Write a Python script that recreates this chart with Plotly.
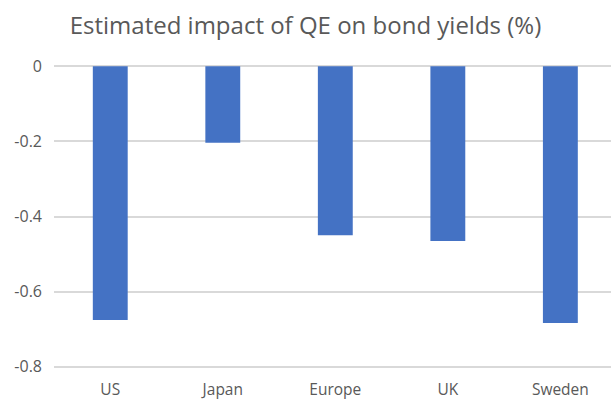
import plotly.graph_objects as go

# Chart data
countries = ["US", "Japan", "Europe", "UK", "Sweden"]
yield_impact = [-0.675, -0.204, -0.45, -0.465, -0.683]
y_ticks = [0, -0.2, -0.4, -0.6, -0.8]
y_tick_labels = ["0", "-0.2", "-0.4", "-0.6", "-0.8"]

fig = go.Figure(
    go.Bar(
        x=countries,
        y=yield_impact,
        marker=dict(color="#4472C4", line=dict(width=0)),
        width=0.31,
    )
)

fig.update_layout(
    width=611,
    height=400,
    margin=dict(l=54, r=0, t=65, b=28),
    paper_bgcolor="white",
    plot_bgcolor="white",
    showlegend=False,
    title=dict(
        text="Estimated impact of QE on bond yields (%)",
        x=0.5,
        xanchor="center",
        y=0.937,
        yanchor="middle",
        font=dict(family="Open Sans", size=24, color="#595959"),
    ),
    font=dict(family="Open Sans", color="#595959"),
)

fig.update_xaxes(
    range=[-0.5, 4.45],
    showgrid=False,
    showline=False,
    zeroline=False,
    ticks="",
    ticklabelstandoff=10,
    tickfont=dict(size=15.5, color="#595959"),
)

fig.update_yaxes(
    range=[-0.803, 0.003],
    tickvals=y_ticks,
    ticktext=y_tick_labels,
    showgrid=True,
    gridcolor="#D9D9D9",
    gridwidth=1.5,
    zeroline=False,
    showline=False,
    ticks="",
    ticklabelstandoff=11,
    tickfont=dict(size=16, color="#595959"),
)

fig.write_html("out.html")
